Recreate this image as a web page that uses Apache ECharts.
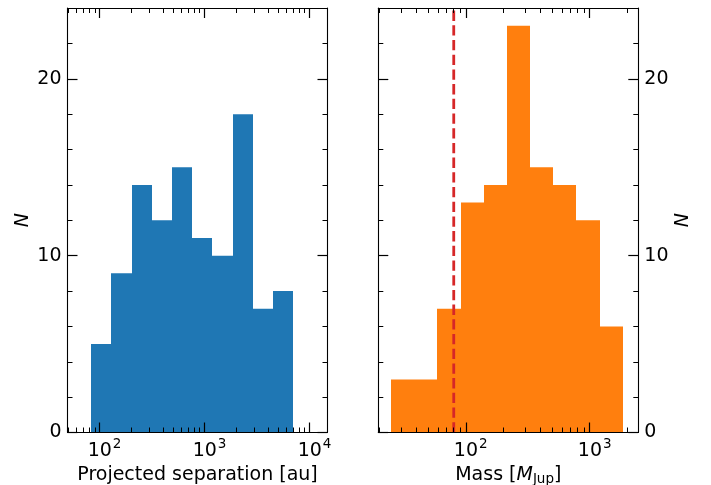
<!DOCTYPE html>
<html>
<head>
<meta charset="utf-8">
<script src="https://cdn.jsdelivr.net/npm/echarts@6/dist/echarts.min.js"></script>
<style>
  html, body { margin: 0; padding: 0; background: #fff; }
  #chart { width: 711px; height: 485px; }
</style>
</head>
<body>
<div id="chart"></div>
<script>
// Projected separation histogram (au): bin edges and counts
const sepEdges = [83.4, 129.8, 202.2, 315.0, 490.6, 763.8, 1189.6, 1852.7, 2885.6, 4494, 6998];
const sepCounts = [5, 9, 14, 12, 15, 11, 10, 18, 7, 8];

// Companion mass histogram (M_Jup): bin edges and counts
const massEdges = [25.0, 38.5, 59.1, 90.9, 139.7, 214.8, 330.3, 507.7, 780.5, 1200, 1845];
const massCounts = [3, 3, 7, 13, 14, 23, 15, 14, 12, 6];

// Hydrogen-burning limit marker (M_Jup)
const hbLimit = 80;

// Axis ranges and ticks
const sepRange = [49.5, 14830];
const massRange = [19.7, 2466];
const nMax = 24;
const sepMajor = [100, 1000, 10000];
const sepMinor = [50, 60, 70, 80, 90, 200, 300, 400, 500, 600, 700, 800, 900,
                  2000, 3000, 4000, 5000, 6000, 7000, 8000, 9000];
const massMajor = [100, 1000];
const massMinor = [20, 30, 40, 50, 60, 70, 80, 90, 200, 300, 400, 500, 600, 700, 800, 900, 2000];
const nMajor = [0, 10, 20];
const nMinor = [2, 4, 6, 8, 12, 14, 16, 18, 22];

const FONT = 'DejaVu Sans';
const FS = 19;
const black = '#000';

const chart = echarts.init(document.getElementById('chart'), null, { renderer: 'canvas' });

const grids = [
  { left: 67.5, top: 8, width: 260, height: 424.5, outerBoundsMode: 'none', containLabel: false },
  { left: 378.3, top: 8, width: 260, height: 424.5, outerBoundsMode: 'none', containLabel: false }
];

function supLabel(v) {
  const e = Math.round(Math.log10(v));
  return '{b|10}{s|' + e + '}';
}
const supRich = {
  b: { fontFamily: FONT, fontSize: FS, color: black, verticalAlign: 'bottom', lineHeight: 22 },
  s: { fontFamily: FONT, fontSize: 13.5, color: black, verticalAlign: 'bottom', lineHeight: 13.5, padding: [0, 0, 9, 1] }
};

const frameLine = { show: true, onZero: false, lineStyle: { color: black, width: 1.1 } };
const noLine = { show: false, onZero: false };
const majorTick = { show: true, inside: true, length: 10, lineStyle: { color: black, width: 1.2 } };
const minorTick = { show: true, inside: true, length: 5, lineStyle: { color: black, width: 1 } };

function xAxes(gi, range, major, minor, name, nameStyle) {
  const base = { type: 'log', gridIndex: gi, min: range[0], max: range[1], logBase: 10, splitLine: { show: false }, z: 10 };
  return [
    Object.assign({}, base, {
      position: 'bottom',
      axisLine: frameLine,
      axisTick: Object.assign({ customValues: major }, majorTick),
      axisLabel: { show: true, margin: 6, customValues: major, formatter: supLabel, rich: supRich, padding: [0, 0, 0, 10] },
      name: name, nameLocation: 'middle', nameGap: 32,
      nameTextStyle: nameStyle
    }),
    Object.assign({}, base, {
      position: 'bottom',
      axisLine: noLine,
      axisTick: Object.assign({ customValues: minor }, minorTick),
      axisLabel: { show: false }
    }),
    Object.assign({}, base, {
      position: 'top',
      axisLine: frameLine,
      axisTick: Object.assign({ customValues: major }, majorTick),
      axisLabel: { show: false }
    }),
    Object.assign({}, base, {
      position: 'top',
      axisLine: noLine,
      axisTick: Object.assign({ customValues: minor }, minorTick),
      axisLabel: { show: false }
    })
  ];
}

function yAxes(gi, labelSide) {
  const base = { type: 'value', gridIndex: gi, min: 0, max: nMax, splitLine: { show: false }, z: 10 };
  const axes = [];
  ['left', 'right'].forEach(function (side) {
    const labelled = side === labelSide;
    axes.push(Object.assign({}, base, {
      position: side,
      axisLine: frameLine,
      axisTick: Object.assign({ customValues: nMajor }, majorTick),
      axisLabel: labelled
        ? { show: true, margin: 6, customValues: nMajor, fontFamily: FONT, fontSize: FS, color: black }
        : { show: false },
      name: labelled ? 'N' : '',
      nameLocation: 'middle',
      nameGap: 35,
      nameRotate: 90,
      nameTextStyle: { fontFamily: FONT, fontSize: FS, fontStyle: 'italic', color: black }
    }));
    axes.push(Object.assign({}, base, {
      position: side,
      axisLine: noLine,
      axisTick: Object.assign({ customValues: nMinor }, minorTick),
      axisLabel: { show: false }
    }));
  });
  return axes;
}

const sepName = { fontFamily: FONT, fontSize: FS, color: black };
const massName = {
  fontFamily: FONT, fontSize: FS, color: black,
  rich: {
    n: { fontFamily: FONT, fontSize: FS, color: black },
    i: { fontFamily: FONT, fontSize: FS, fontStyle: 'italic', color: black },
    sub: { fontFamily: FONT, fontSize: 13.5, color: black, verticalAlign: 'top', padding: [8, 0, 0, 0] }
  }
};

const xAxisList = [].concat(
  xAxes(0, sepRange, sepMajor, sepMinor, 'Projected separation [au]', sepName),
  xAxes(1, massRange, massMajor, massMinor, '{n|Mass [}{i|M}{sub|Jup}{n|]}', massName)
);
const yAxisList = [].concat(yAxes(0, 'left'), yAxes(1, 'right'));

function histData(edges, counts) {
  return counts.map(function (c, i) { return [edges[i], edges[i + 1], c]; });
}

// Bars snapped to whole pixels so neighbouring bins meet without seams
function histRender(color) {
  return function (params, api) {
    const p0 = api.coord([api.value(0), api.value(2)]);
    const p1 = api.coord([api.value(1), 0]);
    const x0 = Math.round(p0[0]);
    const x1 = Math.round(p1[0]);
    return {
      type: 'rect',
      shape: { x: x0, y: p0[1], width: x1 - x0, height: p1[1] - p0[1] },
      style: { fill: color, stroke: null }
    };
  };
}

const option = {
  animation: false,
  backgroundColor: '#fff',
  grid: grids,
  xAxis: xAxisList,
  yAxis: yAxisList,
  series: [
    {
      type: 'custom', xAxisIndex: 0, yAxisIndex: 0,
      renderItem: histRender('#1f77b4'),
      encode: { x: [0, 1], y: 2 },
      data: histData(sepEdges, sepCounts),
      z: 1
    },
    {
      type: 'custom', xAxisIndex: 4, yAxisIndex: 4,
      renderItem: histRender('#ff7f0e'),
      encode: { x: [0, 1], y: 2 },
      data: histData(massEdges, massCounts),
      z: 1
    },
    {
      type: 'line', xAxisIndex: 4, yAxisIndex: 4,
      data: [[hbLimit, 0], [hbLimit, nMax]],
      symbol: 'none',
      lineStyle: { color: '#d62728', width: 2.8, type: [10.3, 4.4] },
      z: 3
    }
  ]
};
chart.setOption(option);
</script>
</body>
</html>
